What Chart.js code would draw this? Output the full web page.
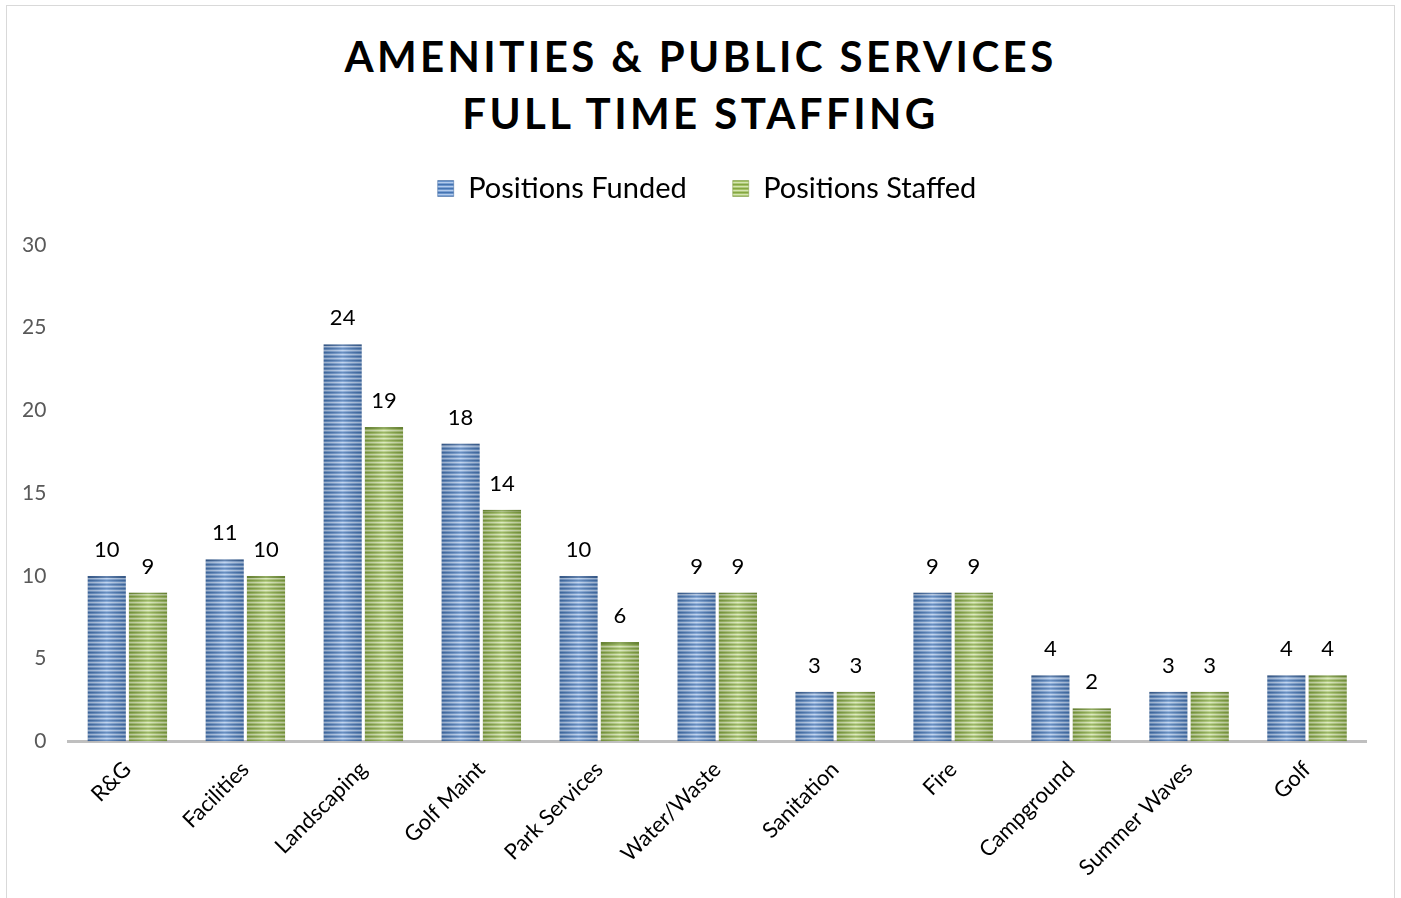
<!DOCTYPE html>
<html lang="en">
<head>
  <meta charset="UTF-8" />
  <title>Amenities & Public Services Full Time Staffing</title>
  <script src="https://cdn.jsdelivr.net/npm/chart.js"></script>
  <style>
    body {
      margin: 0;
      background: #fff;
      font-family: Lato, "Open Sans", sans-serif;
    }
    .frame {
      position: relative;
      width: 1401px;
      height: 898px;
    }
    .border {
      position: absolute;
      left: 6px;
      top: 5px;
      width: 1389px;
      height: 900px;
      border: 1px solid #d9d9d9;
      box-sizing: border-box;
      pointer-events: none;
    }
    .title {
      position: absolute;
      left: 0;
      top: 28px;
      width: 1401px;
      text-align: center;
      font-weight: bold;
      font-size: 42px;
      line-height: 57px;
      letter-spacing: 3.4px;
      color: #000;
    }
    canvas {
      position: absolute;
      left: 0;
      top: 0;
    }
  </style>
</head>
<body>
  <div class="frame">
    <div class="border"></div>
    <div class="title">AMENITIES &amp; PUBLIC SERVICES<br>FULL TIME STAFFING</div>
    <canvas id="staffChart" width="1401" height="898"></canvas>
  </div>

  <script>
    const categories = ['R&G', 'Facilities', 'Landscaping', 'Golf Maint', 'Park Services',
      'Water/Waste', 'Sanitation', 'Fire', 'Campground', 'Summer Waves', 'Golf'];
    const positionsFunded = [10, 11, 24, 18, 10, 9, 3, 9, 4, 3, 4];
    const positionsStaffed = [9, 10, 19, 14, 6, 9, 3, 9, 2, 3, 4];
    const yTicks = [0, 5, 10, 15, 20, 25, 30];

    const FONT = 'Lato, "Open Sans", sans-serif';

    // striped fill like the office "horizontal stripes" bar style
    function stripes(colors) {
      const c = document.createElement('canvas');
      c.width = 1;
      c.height = colors.length;
      const g = c.getContext('2d');
      colors.forEach((col, i) => {
        g.fillStyle = col;
        g.fillRect(0, i, 1, 1);
      });
      return g.createPattern(c, 'repeat');
    }

    const bluePattern = stripes(['#4574b2', '#6a94cb', '#b3cbec', '#7aa0d3']);
    const greenPattern = stripes(['#84a643', '#a3c165', '#d5e5b2', '#afc978']);

    // light in the middle, darker at the sides of every bar
    const barShading = {
      id: 'barShading',
      afterDatasetsDraw(chart) {
        const ctx = chart.ctx;
        chart.data.datasets.forEach((ds, i) => {
          chart.getDatasetMeta(i).data.forEach(bar => {
            const left = bar.x - bar.width / 2;
            const right = bar.x + bar.width / 2;
            const grad = ctx.createLinearGradient(left, 0, right, 0);
            grad.addColorStop(0, 'rgba(0,0,0,0.15)');
            grad.addColorStop(0.5, 'rgba(255,255,255,0.2)');
            grad.addColorStop(1, 'rgba(0,0,0,0.15)');
            ctx.save();
            ctx.fillStyle = grad;
            ctx.fillRect(left, bar.y, bar.width, bar.base - bar.y);
            ctx.restore();
          });
        });
      }
    };

    const valueLabels = {
      id: 'valueLabels',
      afterDatasetsDraw(chart) {
        const ctx = chart.ctx;
        ctx.save();
        ctx.font = '22px ' + FONT;
        ctx.fillStyle = '#000';
        ctx.textAlign = 'center';
        ctx.textBaseline = 'bottom';
        chart.data.datasets.forEach((ds, i) => {
          chart.getDatasetMeta(i).data.forEach((bar, j) => {
            ctx.fillText(ds.data[j], bar.x, bar.y - 15);
          });
        });
        ctx.restore();
      }
    };

    // extra room under the legend, and the legend sits a little right of centre
    const legendTweak = {
      id: 'legendTweak',
      beforeInit(chart) {
        const fit = chart.legend.fit;
        chart.legend.fit = function () {
          fit.call(this);
          this.height += 32;
        };
      },
      afterLayout(chart) {
        chart.legend.left += 24;
        chart.legend.right += 24;
      }
    };

    const ctx = document.getElementById('staffChart').getContext('2d');
    new Chart(ctx, {
      type: 'bar',
      data: {
        labels: categories,
        datasets: [
          {
            label: 'Positions Funded',
            data: positionsFunded,
            backgroundColor: bluePattern,
            borderColor: '#3d659c',
            borderWidth: { top: 2, left: 0, right: 0, bottom: 0 },
            borderSkipped: false,
            barPercentage: 0.93,
            categoryPercentage: 0.7
          },
          {
            label: 'Positions Staffed',
            data: positionsStaffed,
            backgroundColor: greenPattern,
            borderColor: '#76963a',
            borderWidth: { top: 2, left: 0, right: 0, bottom: 0 },
            borderSkipped: false,
            barPercentage: 0.93,
            categoryPercentage: 0.7
          }
        ]
      },
      options: {
        responsive: false,
        animation: false,
        layout: { padding: { top: 128, left: 0, right: 35, bottom: 2 } },
        plugins: {
          legend: {
            position: 'top',
            labels: {
              color: '#000',
              font: { family: FONT, size: 29 },
              boxWidth: 16,
              boxHeight: 16,
              padding: 46
            }
          },
          tooltip: { enabled: false }
        },
        scales: {
          x: {
            grid: { display: false, drawTicks: false },
            border: { color: '#bfbfbf', width: 3 },
            ticks: {
              color: '#000',
              font: { family: FONT, size: 22 },
              maxRotation: 45,
              minRotation: 45,
              padding: 15
            }
          },
          y: {
            min: 0,
            max: 30,
            afterBuildTicks(axis) {
              axis.ticks = yTicks.map(v => ({ value: v }));
            },
            grid: { display: false, drawTicks: false },
            border: { display: false },
            ticks: {
              color: '#595959',
              font: { family: FONT, size: 21 },
              padding: 22
            }
          }
        }
      },
      plugins: [legendTweak, barShading, valueLabels]
    });
  </script>
</body>
</html>
